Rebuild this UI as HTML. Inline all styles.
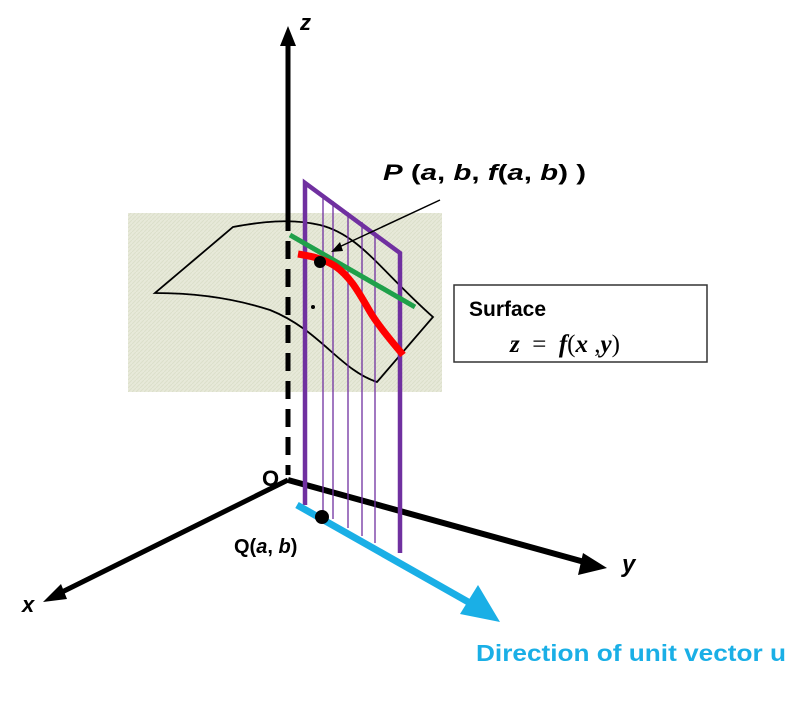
<!DOCTYPE html>
<html><head><meta charset="utf-8"><style>
html,body{margin:0;padding:0;background:#fff;}
svg{display:block;font-family:"Liberation Sans",sans-serif;}
</style></head><body>
<svg width="811" height="701" viewBox="0 0 811 701">
<defs>
<pattern id="hatch" width="4" height="4" patternUnits="userSpaceOnUse"><rect width="4" height="4" fill="#e7e9d9"/><path d="M0 4L4 0" stroke="#dcdfca" stroke-width="1"/></pattern>
</defs>
<rect x="128" y="213" width="314" height="179" fill="url(#hatch)"/>
<line x1="288" y1="213" x2="288" y2="42" stroke="#000" stroke-width="5"/>
<polygon points="288,26 280,46 296,46" fill="#000"/>
<line x1="288" y1="213" x2="288" y2="475" stroke="#000" stroke-width="5" stroke-dasharray="18,10"/>
<text x="300" y="30" font-size="22" font-style="italic" font-weight="bold">z</text>
<line x1="288" y1="480" x2="588" y2="563" stroke="#000" stroke-width="6"/>
<polygon points="607,568 583,553 578,575" fill="#000"/>
<text x="622" y="572" font-size="24" font-style="italic" font-weight="bold">y</text>
<line x1="288" y1="480" x2="58" y2="594" stroke="#000" stroke-width="5"/>
<polygon points="43,602 61,584 67,599" fill="#000"/>
<text x="22" y="612" font-size="22" font-style="italic" font-weight="bold">x</text>
<text x="262" y="486" font-size="22" font-weight="bold">O</text>
<path d="M233,227 C260,222 290,218 320,225 C360,235 380,270 433,317 L377,382 C340,370 320,330 270,310 C230,297 190,293 155,293 Z" fill="none" stroke="#000" stroke-width="1.8"/>
<g stroke="#7030a0">
<line x1="323" y1="194" x2="323" y2="513" stroke-width="1.3"/>
<line x1="333" y1="201" x2="333" y2="519" stroke-width="1.3"/>
<line x1="348" y1="212" x2="348" y2="528" stroke-width="1.3"/>
<line x1="362" y1="222" x2="362" y2="536" stroke-width="1.3"/>
<line x1="375" y1="232" x2="375" y2="543" stroke-width="1.3"/>
<polyline points="305,505 305,183 400,253 400,553" fill="none" stroke-width="4.5"/>
</g>
<line x1="290" y1="235" x2="415" y2="307" stroke="#1fa04a" stroke-width="5"/>
<path d="M298,254 C310,256 322,258 335,266 C352,278 360,295 372,315 C383,332 395,345 403,355" fill="none" stroke="#f00" stroke-width="7"/>
<circle cx="320" cy="262" r="6" fill="#000"/>
<circle cx="313" cy="307" r="2" fill="#000"/>
<line x1="440" y1="200" x2="337" y2="248" stroke="#000" stroke-width="1.5"/>
<polygon points="331,252 340,242 343,251" fill="#000"/>
<text x="383" y="180" font-size="22" font-weight="bold" textLength="203" lengthAdjust="spacingAndGlyphs"><tspan font-style="italic">P</tspan> (<tspan font-style="italic">a</tspan>, <tspan font-style="italic">b</tspan>, <tspan font-style="italic">f</tspan>(<tspan font-style="italic">a</tspan>, <tspan font-style="italic">b</tspan>) )</text>
<line x1="297" y1="505" x2="470" y2="603" stroke="#1aafe6" stroke-width="7"/>
<polygon points="500,622 460,614 478,585" fill="#1aafe6"/>
<circle cx="322" cy="517" r="7" fill="#000"/>
<text x="234" y="553" font-size="20" font-weight="bold">Q(<tspan font-style="italic">a</tspan>, <tspan font-style="italic">b</tspan>)</text>
<text x="476" y="661" font-size="23" font-weight="bold" fill="#1aafe6" textLength="310" lengthAdjust="spacingAndGlyphs">Direction of unit vector u</text>
<rect x="454" y="285" width="253" height="77" fill="#fff" stroke="#333" stroke-width="1.5"/>
<text x="469" y="316" font-size="21" font-weight="bold">Surface</text>
<text x="510" y="352" font-size="25" font-family="Liberation Serif,serif" font-style="italic" font-weight="bold" xml:space="preserve">z  <tspan font-style="normal" font-weight="normal">=</tspan>  f<tspan font-style="normal" font-weight="normal">(</tspan>x<tspan font-style="normal" font-weight="normal"> ,</tspan>y<tspan font-style="normal" font-weight="normal">)</tspan></text>
</svg>
</body></html>
